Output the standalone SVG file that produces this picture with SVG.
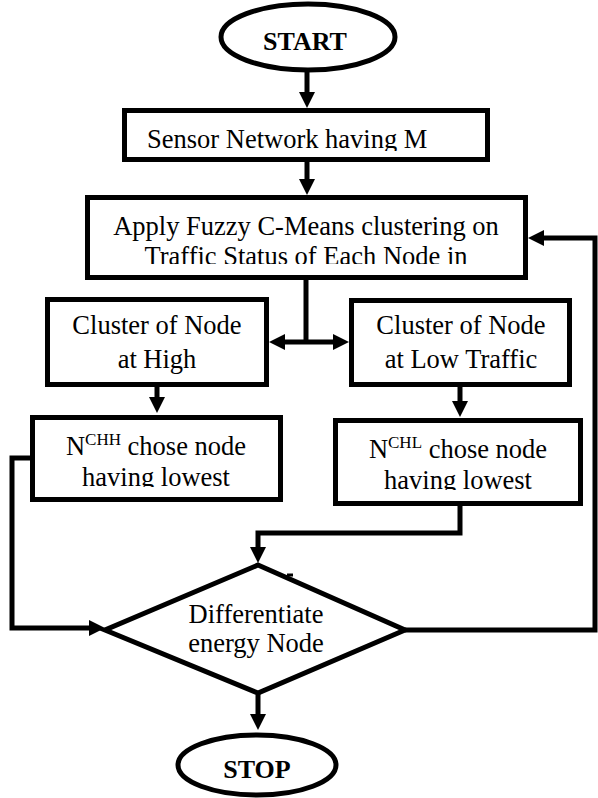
<svg xmlns="http://www.w3.org/2000/svg" width="598" height="798" viewBox="0 0 598 798">
  <style>
    .shape { fill: #fff; stroke: #000; stroke-width: 5; }
    .wire { fill: none; stroke: #000; stroke-width: 5; stroke-linejoin: miter; }
    .lbl { font-family: "Liberation Serif", "Times New Roman", serif; font-size: 26.5px; fill: #000; }
    .term { font-family: "Liberation Serif", "Times New Roman", serif; font-size: 26px; font-weight: bold; fill: #000; text-anchor: middle; }
    .mid { text-anchor: middle; }
    .sup { font-size: 17px; }
  </style>
  <defs>
    <marker id="head" viewBox="0 0 16 16" refX="8" refY="8" markerWidth="16" markerHeight="16" markerUnits="userSpaceOnUse" orient="auto-start-reverse">
      <path d="M0,0 L16,8 L0,16 z" fill="#000"/>
    </marker>
    <clipPath id="cSensor"><rect x="120" y="100" width="380" height="51"/></clipPath>
    <clipPath id="cFuzzy"><rect x="80" y="190" width="460" height="74"/></clipPath>
    <clipPath id="cHigh"><rect x="25" y="410" width="265" height="77"/></clipPath>
    <clipPath id="cLow"><rect x="330" y="412" width="260" height="78"/></clipPath>
  </defs>

  <!-- connectors -->
  <g id="connectors">
    <line class="wire" x1="307" y1="72" x2="307" y2="100" marker-end="url(#head)"/>
    <line class="wire" x1="307" y1="162" x2="307" y2="187" marker-end="url(#head)"/>
    <line class="wire" x1="306" y1="280" x2="306" y2="344"/>
    <line class="wire" x1="277" y1="342" x2="341" y2="342" marker-start="url(#head)" marker-end="url(#head)"/>
    <line class="wire" x1="157" y1="387" x2="157" y2="405" marker-end="url(#head)"/>
    <line class="wire" x1="460" y1="387" x2="460" y2="409" marker-end="url(#head)"/>
    <polyline class="wire" points="30,458 12,458 12,628 97,628" marker-end="url(#head)"/>
    <polyline class="wire" points="460,506 460,533 258,533 258,555" marker-end="url(#head)"/>
    <polyline class="wire" points="405,630 595,630 595,238 536,238" marker-end="url(#head)"/>
    <line class="wire" x1="258" y1="693" x2="258" y2="722" marker-end="url(#head)"/>
    <line x1="287" y1="575" x2="293" y2="575" stroke="#000" stroke-width="3"/>
  </g>

  <g id="start">
    <ellipse class="shape" cx="308" cy="37" rx="87" ry="33"/>
    <text class="term" x="305" y="50">START</text>
  </g>

  <g id="sensor-network">
    <rect class="shape" x="124.5" y="110.5" width="363" height="49"/>
    <text class="lbl" x="147" y="148" clip-path="url(#cSensor)">Sensor Network having M</text>
  </g>

  <g id="fuzzy-clustering">
    <rect class="shape" x="87.5" y="197.5" width="438" height="80"/>
    <g clip-path="url(#cFuzzy)">
      <text class="lbl mid" x="306" y="235">Apply Fuzzy C-Means clustering on</text>
      <text class="lbl mid" x="306" y="265">Traffic Status of Each Node in</text>
    </g>
  </g>

  <g id="cluster-high">
    <rect class="shape" x="47.5" y="299.5" width="219" height="85"/>
    <text class="lbl mid" x="157" y="334">Cluster of Node</text>
    <text class="lbl mid" x="157" y="368">at High</text>
  </g>

  <g id="cluster-low">
    <rect class="shape" x="351.5" y="300.5" width="218" height="84"/>
    <text class="lbl mid" x="461" y="334">Cluster of Node</text>
    <text class="lbl mid" x="461" y="368">at Low Traffic</text>
  </g>

  <g id="head-high">
    <rect class="shape" x="32.5" y="417.5" width="248" height="82"/>
    <g clip-path="url(#cHigh)">
      <text class="lbl mid" x="156" y="455">N<tspan class="sup" dy="-10">CHH</tspan><tspan dy="10"> chose node</tspan></text>
      <text class="lbl mid" x="156" y="486">having lowest</text>
    </g>
  </g>

  <g id="head-low">
    <rect class="shape" x="335.5" y="420.5" width="245" height="83"/>
    <g clip-path="url(#cLow)">
      <text class="lbl mid" x="458" y="458">N<tspan class="sup" dy="-10">CHL</tspan><tspan dy="10"> chose node</tspan></text>
      <text class="lbl mid" x="458" y="489">having lowest</text>
    </g>
  </g>

  <g id="differentiate">
    <polygon class="shape" points="258,565 405,630 258,693 105,630"/>
    <text class="lbl mid" x="256" y="623">Differentiate</text>
    <text class="lbl mid" x="256" y="652">energy Node</text>
  </g>

  <g id="stop">
    <ellipse class="shape" cx="257" cy="765" rx="79" ry="30"/>
    <text class="term" x="257" y="778">STOP</text>
  </g>
</svg>
